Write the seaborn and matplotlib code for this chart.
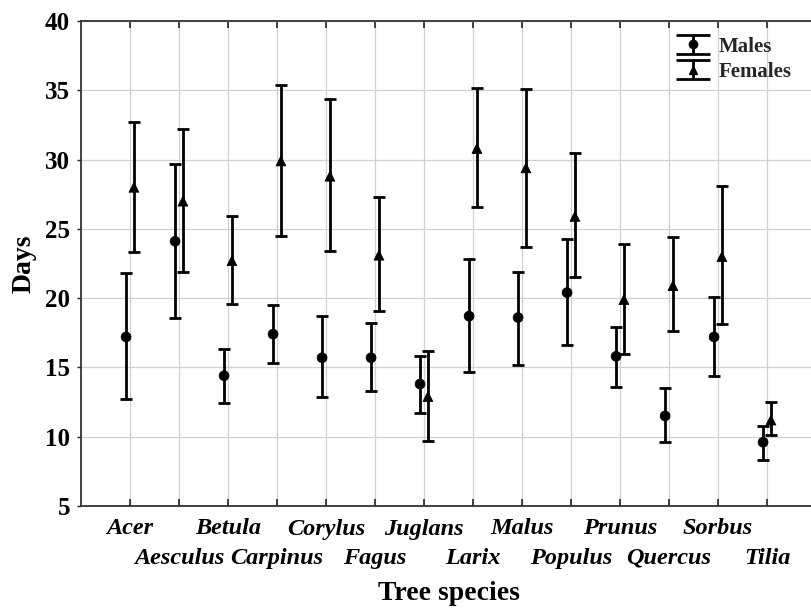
import numpy as np
import pandas as pd
import matplotlib
matplotlib.use("Agg")
import matplotlib.pyplot as plt
import seaborn as sns
from matplotlib.container import ErrorbarContainer
from matplotlib.legend_handler import HandlerErrorbar

species = ["Acer", "Aesculus", "Betula", "Carpinus", "Corylus", "Fagus", "Juglans",
           "Larix", "Malus", "Populus", "Prunus", "Quercus", "Sorbus", "Tilia"]
male_mean = [17.2, 24.1, 14.4, 17.4, 15.7, 15.7, 13.8, 18.7, 18.6, 20.4, 15.8, 11.5, 17.2, 9.6]
male_low = [12.7, 18.6, 12.4, 15.3, 12.9, 13.3, 11.7, 14.7, 15.2, 16.6, 13.6, 9.6, 14.4, 8.3]
male_high = [21.8, 29.7, 16.3, 19.5, 18.7, 18.2, 15.8, 22.8, 21.9, 24.3, 17.9, 13.5, 20.1, 10.8]
female_mean = [28.0, 27.0, 22.7, 29.9, 28.8, 23.1, 12.9, 30.8, 29.4, 25.9, 19.9, 20.9, 23.0, 11.2]
female_low = [23.3, 21.9, 19.6, 24.5, 23.4, 19.1, 9.7, 26.6, 23.7, 21.5, 16.0, 17.6, 18.1, 10.1]
female_high = [32.7, 32.2, 25.9, 35.4, 34.4, 27.3, 16.2, 35.2, 35.1, 30.5, 23.9, 24.4, 28.1, 12.5]
y_ticks = [5, 10, 15, 20, 25, 30, 35, 40]

sns.set_theme(style="white")
plt.rcParams['font.family'] = ['Liberation Serif', 'DejaVu Serif']
plt.rcParams['font.weight'] = 'bold'

fig = plt.figure(figsize=(8.12, 6.11), dpi=100)
ax = fig.add_axes([81 / 812, 1 - 506 / 611, 735 / 812, 485 / 611])

idx = np.arange(len(species))
off = 0.08
df = pd.DataFrame({
    "x": np.concatenate([idx - off, idx + off]),
    "y": male_mean + female_mean,
    "sex": ["Males"] * len(species) + ["Females"] * len(species),
})

ax.errorbar(idx - off, male_mean,
            yerr=[np.array(male_mean) - np.array(male_low), np.array(male_high) - np.array(male_mean)],
            fmt='none', ecolor='black', elinewidth=2.0, capsize=4, capthick=2.0, zorder=2)
ax.errorbar(idx + off, female_mean,
            yerr=[np.array(female_mean) - np.array(female_low), np.array(female_high) - np.array(female_mean)],
            fmt='none', ecolor='black', elinewidth=2.0, capsize=4, capthick=2.0, zorder=2)
sns.scatterplot(data=df, x="x", y="y", style="sex", markers={"Males": "o", "Females": "^"},
                color="black", edgecolor="black", s=50, legend=False, zorder=3, ax=ax)

# legend handles
h1 = ax.errorbar([np.nan], [np.nan], yerr=[[np.nan], [np.nan]], fmt='o', color='black',
                 markersize=6, elinewidth=2, capsize=12.5, capthick=2, label="Males")
h2 = ax.errorbar([np.nan], [np.nan], yerr=[[np.nan], [np.nan]], fmt='^', color='black',
                 markersize=6, elinewidth=2, capsize=12.5, capthick=2, label="Females")
leg = ax.legend(handles=[h1, h2], loc="upper left", bbox_to_anchor=(0.795, 1.0), frameon=False,
                fontsize=15, handlelength=1.2, handletextpad=0.6, labelspacing=0.25,
                borderaxespad=0.35,
                handler_map={ErrorbarContainer: HandlerErrorbar(yerr_size=0.45)})
for t in leg.get_texts():
    t.set_fontweight('bold')

ax.set_xlim(-1, 14)
ax.set_ylim(5, 40)
ax.set_xticks(idx[::2])
ax.set_xticklabels(species[::2], fontstyle="italic", fontweight="bold", fontsize=17.5)
ax.set_xticks(idx[1::2], minor=True)
ax.set_xticklabels(species[1::2], minor=True, fontstyle="italic", fontweight="bold", fontsize=17.5)
ax.set_yticks(y_ticks)
ax.set_yticklabels([str(v) for v in y_ticks], fontweight="bold", fontsize=18)
ax.tick_params(axis='x', which='major', direction='in', top=True, bottom=True, length=5, width=1.2,
               pad=9, color='#222222')
ax.tick_params(axis='x', which='minor', direction='in', top=True, bottom=True, length=5, width=1.2,
               pad=30, color='#222222')
ax.tick_params(axis='y', direction='out', left=True, length=3, width=1.0, pad=5, color='#222222')
ax.grid(True, axis='y', color='#d0d0d0', linewidth=0.9)
ax.grid(True, axis='x', which='both', color='#d0d0d0', linewidth=0.9)
ax.set_axisbelow(True)
for sp in ax.spines.values():
    sp.set_color('#333333')
    sp.set_linewidth(1.3)
ax.set_xlabel("Tree species", fontsize=20, fontweight="bold", labelpad=9, color='black')
ax.set_ylabel("Days", fontsize=20, fontweight="bold", labelpad=6, color='black')
for lab in ax.get_xticklabels() + ax.get_xticklabels(minor=True) + ax.get_yticklabels():
    lab.set_color('black')

fig.savefig("out.png", dpi=100)
